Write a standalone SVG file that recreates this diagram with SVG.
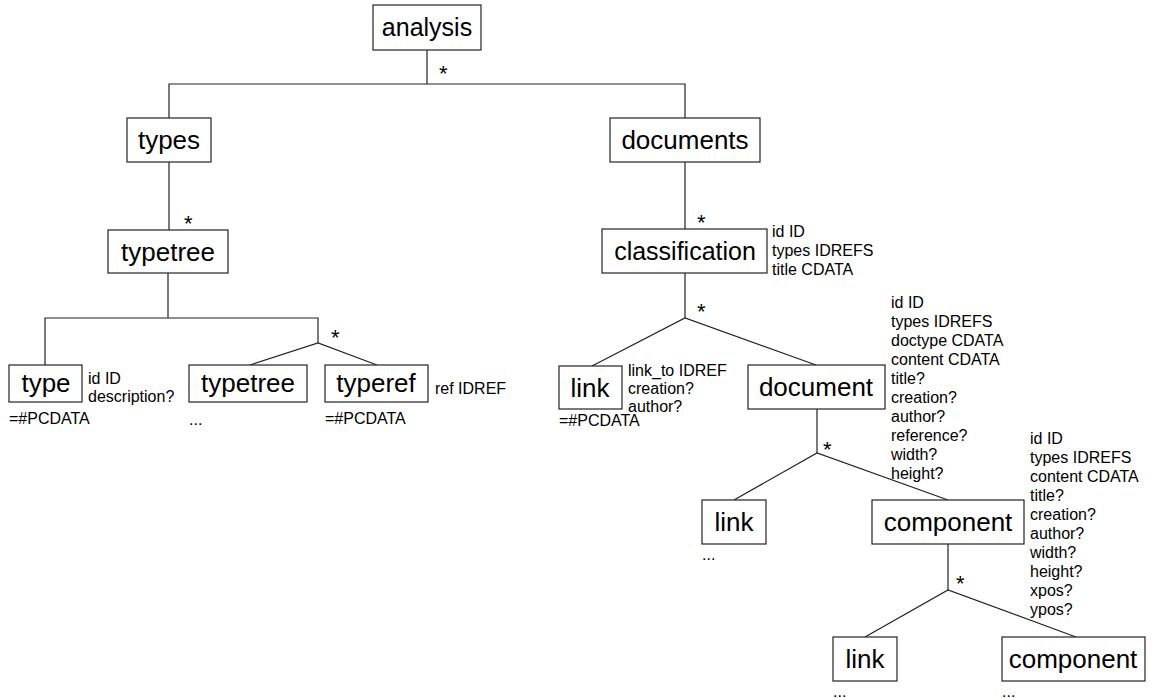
<svg xmlns="http://www.w3.org/2000/svg" width="1159" height="698" viewBox="0 0 1159 698">
<style>
.box{fill:#fff;stroke:#222;stroke-width:1.2}
.lbl{font-family:"Liberation Sans",Arial,sans-serif;font-size:26px;fill:#000;text-anchor:middle}
.attr{font-family:"Liberation Sans",Arial,sans-serif;font-size:16px;fill:#000}
.star{font-family:"Liberation Sans",Arial,sans-serif;font-size:22px;fill:#000}
.con line,.con polyline{stroke:#222;stroke-width:1.2;fill:none}
</style>
<rect width="1159" height="698" fill="#fff"/>
<g id="connectors" class="con">
<line x1="427" y1="50" x2="427" y2="84"/>
<polyline points="169,118 169,84 685,84 685,118"/>
<line x1="169" y1="162" x2="169" y2="230"/>
<line x1="168" y1="273" x2="168" y2="318"/>
<polyline points="45,365 45,318 318,318 318,343"/>
<polyline points="250,365 318,343 377,365"/>
<line x1="685" y1="162" x2="685" y2="229"/>
<line x1="685" y1="273" x2="685" y2="318"/>
<polyline points="592,366 685,318 816,365"/>
<line x1="817" y1="409" x2="817" y2="453"/>
<polyline points="734,500 817,453 948,500"/>
<line x1="948" y1="544" x2="948" y2="590"/>
<polyline points="865,637 948,590 1076,637"/>
<text class="star" x="439" y="81">*</text>
<text class="star" x="184" y="231">*</text>
<text class="star" x="331" y="345">*</text>
<text class="star" x="697" y="230">*</text>
<text class="star" x="697" y="319">*</text>
<text class="star" x="823" y="457">*</text>
<text class="star" x="956" y="591">*</text>
</g>
<g id="analysis"><rect class="box" x="373" y="5" width="108" height="45"/><text class="lbl" x="427" y="36" style="font-size:25px">analysis</text></g>
<g id="types"><rect class="box" x="127" y="118" width="84" height="44"/><text class="lbl" x="169" y="149">types</text></g>
<g id="documents"><rect class="box" x="610" y="118" width="150" height="44"/><text class="lbl" x="685" y="149">documents</text></g>
<g id="typetree"><rect class="box" x="108" y="230" width="120" height="43"/><text class="lbl" x="168" y="261">typetree</text></g>
<g id="classification"><rect class="box" x="602" y="229" width="165" height="44"/><text class="lbl" x="685" y="260" style="font-size:25px">classification</text>
<text class="attr" x="772" y="237">id ID</text><text class="attr" x="772" y="256">types IDREFS</text><text class="attr" x="772" y="275">title CDATA</text></g>
<g id="type"><rect class="box" x="9" y="365" width="73" height="37"/><text class="lbl" x="46" y="392">type</text>
<text class="attr" x="88" y="384">id ID</text><text class="attr" x="88" y="402">description?</text><text class="attr" x="9" y="424">=#PCDATA</text></g>
<g id="typetree2"><rect class="box" x="189" y="365" width="118" height="37"/><text class="lbl" x="248" y="392">typetree</text><text class="attr" x="189" y="425">...</text></g>
<g id="typeref"><rect class="box" x="325" y="365" width="103" height="37"/><text class="lbl" x="376" y="392">typeref</text>
<text class="attr" x="435" y="394">ref IDREF</text><text class="attr" x="325" y="424">=#PCDATA</text></g>
<g id="link1"><rect class="box" x="559" y="366" width="63" height="43"/><text class="lbl" x="590" y="397">link</text>
<text class="attr" x="628" y="376">link_to IDREF</text><text class="attr" x="628" y="394">creation?</text><text class="attr" x="628" y="412">author?</text><text class="attr" x="559" y="426">=#PCDATA</text></g>
<g id="document"><rect class="box" x="748" y="365" width="137" height="44"/><text class="lbl" x="816" y="396">document</text>
<text class="attr" x="891" y="308">id ID</text><text class="attr" x="891" y="327">types IDREFS</text><text class="attr" x="891" y="346">doctype CDATA</text><text class="attr" x="891" y="365">content CDATA</text><text class="attr" x="891" y="384">title?</text><text class="attr" x="891" y="403">creation?</text><text class="attr" x="891" y="422">author?</text><text class="attr" x="891" y="441">reference?</text><text class="attr" x="891" y="460">width?</text><text class="attr" x="891" y="479">height?</text></g>
<g id="link2"><rect class="box" x="702" y="500" width="64" height="44"/><text class="lbl" x="734" y="531">link</text><text class="attr" x="702" y="560">...</text></g>
<g id="component"><rect class="box" x="872" y="500" width="152" height="44"/><text class="lbl" x="948" y="531">component</text>
<text class="attr" x="1030" y="444">id ID</text><text class="attr" x="1030" y="463">types IDREFS</text><text class="attr" x="1030" y="482">content CDATA</text><text class="attr" x="1030" y="501">title?</text><text class="attr" x="1030" y="520">creation?</text><text class="attr" x="1030" y="539">author?</text><text class="attr" x="1030" y="558">width?</text><text class="attr" x="1030" y="577">height?</text><text class="attr" x="1030" y="596">xpos?</text><text class="attr" x="1030" y="615">ypos?</text></g>
<g id="link3"><rect class="box" x="833" y="637" width="64" height="44"/><text class="lbl" x="865" y="668">link</text><text class="attr" x="833" y="697">...</text></g>
<g id="component2"><rect class="box" x="1002" y="637" width="143" height="44"/><text class="lbl" x="1073" y="668">component</text><text class="attr" x="1002" y="697">...</text></g>
</svg>
